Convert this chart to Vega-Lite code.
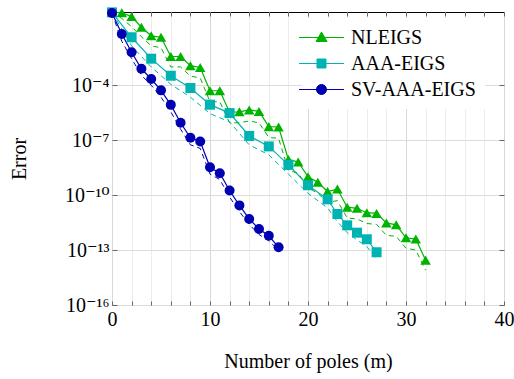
{
  "$schema": "https://vega.github.io/schema/vega-lite/v6.json",
  "width": 392,
  "height": 293,
  "padding": {"left": 9, "top": 7, "right": 0, "bottom": 2},
  "background": "white",
  "config": {
    "view": {"stroke": "black", "strokeWidth": 1},
    "font": "Liberation Serif",
    "axis": {
      "labelFont": "Liberation Serif, DejaVu Serif",
      "titleFont": "Liberation Serif",
      "labelFontSize": 20,
      "titleFontSize": 20,
      "labelColor": "black",
      "titleColor": "black",
      "titleFontWeight": "normal",
      "domain": false,
      "tickColor": "#666666",
      "tickWidth": 1
    },
    "legend": {
      "orient": "none",
      "legendX": 190,
      "legendY": 6,
      "padding": 9,
      "fillColor": "white",
      "labelFont": "Liberation Serif",
      "labelFontSize": 20,
      "labelColor": "black",
      "labelOffset": 19,
      "symbolSize": 400,
      "rowPadding": 5,
      "symbolStrokeWidth": 1,
      "symbolOpacity": 1
    }
  },
  "data": {
    "values": [
      {"s": "NLEIGS", "m": 0, "e": 0.955, "d": 0.955},
      {"s": "NLEIGS", "m": 1, "e": 0.912, "d": 0.447},
      {"s": "NLEIGS", "m": 2, "e": 0.562, "d": 0.158},
      {"s": "NLEIGS", "m": 3, "e": 0.148, "d": 0.0447},
      {"s": "NLEIGS", "m": 4, "e": 0.0501, "d": 0.0141},
      {"s": "NLEIGS", "m": 5, "e": 0.0417, "d": 0.0112},
      {"s": "NLEIGS", "m": 6, "e": 3.72e-3, "d": 1e-3},
      {"s": "NLEIGS", "m": 7, "e": 3.72e-3, "d": 1e-3},
      {"s": "NLEIGS", "m": 8, "e": 1.17e-3, "d": 3.16e-4},
      {"s": "NLEIGS", "m": 9, "e": 9.33e-4, "d": 2.51e-4},
      {"s": "NLEIGS", "m": 10, "e": 5.01e-5, "d": 1.26e-5},
      {"s": "NLEIGS", "m": 11, "e": 5.01e-5, "d": 1.26e-5},
      {"s": "NLEIGS", "m": 12, "e": 3.39e-6, "d": 8.91e-7},
      {"s": "NLEIGS", "m": 13, "e": 3.55e-6, "d": 8.91e-7},
      {"s": "NLEIGS", "m": 14, "e": 4.47e-6, "d": 1.12e-6},
      {"s": "NLEIGS", "m": 15, "e": 3.72e-6, "d": 8.91e-7},
      {"s": "NLEIGS", "m": 16, "e": 5.5e-7, "d": 1.41e-7},
      {"s": "NLEIGS", "m": 17, "e": 5.25e-7, "d": 1.26e-7},
      {"s": "NLEIGS", "m": 18, "e": 8.91e-9, "d": 2.24e-9},
      {"s": "NLEIGS", "m": 19, "e": 6.46e-9, "d": 1.58e-9},
      {"s": "NLEIGS", "m": 20, "e": 1e-9, "d": 2.51e-10},
      {"s": "NLEIGS", "m": 21, "e": 5.01e-10, "d": 1.26e-10},
      {"s": "NLEIGS", "m": 22, "e": 1.58e-10, "d": 3.98e-11},
      {"s": "NLEIGS", "m": 23, "e": 2.14e-10, "d": 5.01e-11},
      {"s": "NLEIGS", "m": 24, "e": 2.19e-11, "d": 5.62e-12},
      {"s": "NLEIGS", "m": 25, "e": 1.91e-11, "d": 5.01e-12},
      {"s": "NLEIGS", "m": 26, "e": 1.1e-11, "d": 2.82e-12},
      {"s": "NLEIGS", "m": 27, "e": 1e-11, "d": 2.51e-12},
      {"s": "NLEIGS", "m": 28, "e": 3.02e-12, "d": 6.31e-13},
      {"s": "NLEIGS", "m": 29, "e": 2.4e-12, "d": 5.62e-13},
      {"s": "NLEIGS", "m": 30, "e": 4.68e-13, "d": 1.26e-13},
      {"s": "NLEIGS", "m": 31, "e": 3.98e-13, "d": 1e-13},
      {"s": "NLEIGS", "m": 32, "e": 2.82e-14, "d": 7.94e-15},
      {"s": "AAA-EIGS", "m": 0, "e": 0.955, "d": 0.955},
      {"s": "AAA-EIGS", "m": 2, "e": 0.0417, "d": 0.0141},
      {"s": "AAA-EIGS", "m": 4, "e": 2.82e-3, "d": 1e-3},
      {"s": "AAA-EIGS", "m": 6, "e": 3.31e-4, "d": 1.12e-4},
      {"s": "AAA-EIGS", "m": 8, "e": 7.08e-5, "d": 2.24e-5},
      {"s": "AAA-EIGS", "m": 10, "e": 8.71e-6, "d": 2.82e-6},
      {"s": "AAA-EIGS", "m": 12, "e": 3.02e-6, "d": 1e-6},
      {"s": "AAA-EIGS", "m": 14, "e": 1.7e-7, "d": 5.62e-8},
      {"s": "AAA-EIGS", "m": 16, "e": 4.57e-8, "d": 1.58e-8},
      {"s": "AAA-EIGS", "m": 18, "e": 4.47e-9, "d": 1.41e-9},
      {"s": "AAA-EIGS", "m": 20, "e": 3.47e-10, "d": 1.26e-10},
      {"s": "AAA-EIGS", "m": 22, "e": 5.89e-11, "d": 2e-11},
      {"s": "AAA-EIGS", "m": 23, "e": 9.33e-12, "d": 3.55e-12},
      {"s": "AAA-EIGS", "m": 24, "e": 2.24e-12, "d": 8.91e-13},
      {"s": "AAA-EIGS", "m": 25, "e": 8.91e-13, "d": 3.55e-13},
      {"s": "AAA-EIGS", "m": 26, "e": 3.89e-13, "d": 1.58e-13},
      {"s": "AAA-EIGS", "m": 27, "e": 7.59e-14, "d": 3.16e-14},
      {"s": "SV-AAA-EIGS", "m": 0, "e": 0.891, "d": 0.891},
      {"s": "SV-AAA-EIGS", "m": 1, "e": 0.0631, "d": 0.0251},
      {"s": "SV-AAA-EIGS", "m": 2, "e": 6.31e-3, "d": 2.82e-3},
      {"s": "SV-AAA-EIGS", "m": 3, "e": 7.94e-4, "d": 3.55e-4},
      {"s": "SV-AAA-EIGS", "m": 4, "e": 2.19e-4, "d": 1e-4},
      {"s": "SV-AAA-EIGS", "m": 5, "e": 5.25e-5, "d": 2.24e-5},
      {"s": "SV-AAA-EIGS", "m": 6, "e": 8.51e-6, "d": 3.55e-6},
      {"s": "SV-AAA-EIGS", "m": 7, "e": 8.91e-7, "d": 3.98e-7},
      {"s": "SV-AAA-EIGS", "m": 8, "e": 1.35e-7, "d": 5.62e-8},
      {"s": "SV-AAA-EIGS", "m": 9, "e": 8.51e-8, "d": 3.55e-8},
      {"s": "SV-AAA-EIGS", "m": 10, "e": 3.31e-9, "d": 1.41e-9},
      {"s": "SV-AAA-EIGS", "m": 11, "e": 1.58e-9, "d": 7.08e-10},
      {"s": "SV-AAA-EIGS", "m": 12, "e": 1.78e-10, "d": 7.94e-11},
      {"s": "SV-AAA-EIGS", "m": 13, "e": 2.75e-11, "d": 1.26e-11},
      {"s": "SV-AAA-EIGS", "m": 14, "e": 5.01e-12, "d": 2.51e-12},
      {"s": "SV-AAA-EIGS", "m": 15, "e": 1.41e-12, "d": 7.08e-13},
      {"s": "SV-AAA-EIGS", "m": 16, "e": 6.03e-13, "d": 3.16e-13},
      {"s": "SV-AAA-EIGS", "m": 17, "e": 1.41e-13, "d": 1e-13}
    ]
  },
  "layer": [
    {
      "mark": {"type": "line", "strokeWidth": 1.2},
      "encoding": {
        "x": {
          "field": "m", "type": "quantitative",
          "scale": {"domain": [0, 40], "nice": false},
          "axis": {
            "orient": "bottom",
            "values": [0, 2, 4, 6, 8, 10, 12, 14, 16, 18, 20, 22, 24, 26, 28, 30, 32, 34, 36, 38, 40],
            "labelExpr": "datum.value % 10 == 0 ? datum.label : ''",
            "labelFlush": false,
            "labelPadding": 8,
            "tickSize": -4,
            "grid": true,
            "gridColor": {"condition": {"test": "datum.value % 10 == 0", "value": "#d9d9d9"}, "value": "#ececec"},
            "title": "Number of poles (m)",
            "titlePadding": 22
          }
        },
        "y": {
          "field": "e", "type": "quantitative",
          "scale": {"type": "log", "domain": [1e-16, 1], "nice": false},
          "axis": {
            "orient": "left",
            "values": [1e-16, 1e-13, 1e-10, 1e-7, 1e-4],
            "labelExpr": "datum.value < 1e-15 ? '10⁻¹⁶' : datum.value < 1e-12 ? '10⁻¹³' : datum.value < 1e-9 ? '10⁻¹⁰' : datum.value < 1e-6 ? '10⁻⁷' : '10⁻⁴'",
            "labelPadding": 8,
            "tickSize": -5,
            "grid": true,
            "gridColor": "#dcdcdc",
            "title": "Error",
            "titlePadding": 35
          }
        },
        "color": {
          "field": "s", "type": "nominal",
          "scale": {"domain": ["NLEIGS", "AAA-EIGS", "SV-AAA-EIGS"], "range": ["#00b300", "#00b3b3", "#0000b3"]},
          "legend": {"title": null}
        }
      }
    },
    {
      "mark": {"type": "line", "strokeWidth": 1, "strokeDash": [5, 4]},
      "encoding": {
        "x": {
          "field": "m", "type": "quantitative",
          "axis": {
            "orient": "top",
            "values": [0, 2, 4, 6, 8, 10, 12, 14, 16, 18, 20, 22, 24, 26, 28, 30, 32, 34, 36, 38, 40],
            "labels": false, "grid": false, "tickSize": -4, "title": null
          }
        },
        "y": {
          "field": "d", "type": "quantitative",
          "axis": {
            "orient": "right",
            "values": [1e-16, 1e-13, 1e-10, 1e-7, 1e-4],
            "labels": false, "grid": false, "tickSize": -5, "title": null
          }
        },
        "color": {"field": "s", "type": "nominal", "legend": {"title": null}}
      }
    },
    {
      "transform": [{"filter": "datum.s == 'NLEIGS'"}],
      "mark": {"type": "point", "shape": "triangle-up", "filled": true, "opacity": 1, "size": 110},
      "encoding": {
        "x": {"field": "m", "type": "quantitative", "axis": null},
        "y": {"field": "e", "type": "quantitative", "axis": null},
        "color": {"field": "s", "type": "nominal", "legend": {"title": null}}
      }
    },
    {
      "transform": [{"filter": "datum.s == 'AAA-EIGS'"}],
      "mark": {"type": "point", "shape": "square", "filled": true, "opacity": 1, "size": 100},
      "encoding": {
        "x": {"field": "m", "type": "quantitative", "axis": null},
        "y": {"field": "e", "type": "quantitative", "axis": null},
        "color": {"field": "s", "type": "nominal", "legend": {"title": null}}
      }
    },
    {
      "transform": [{"filter": "datum.s == 'SV-AAA-EIGS'"}],
      "mark": {"type": "point", "shape": "circle", "filled": true, "opacity": 1, "size": 100},
      "encoding": {
        "x": {"field": "m", "type": "quantitative", "axis": null},
        "y": {"field": "e", "type": "quantitative", "axis": null},
        "color": {"field": "s", "type": "nominal", "legend": {"title": null}}
      }
    },
    {
      "mark": {"type": "point", "filled": true, "opacity": 1, "size": 0},
      "encoding": {
        "x": {"field": "m", "type": "quantitative", "axis": null},
        "y": {"field": "e", "type": "quantitative", "axis": null},
        "color": {"field": "s", "type": "nominal", "legend": {"title": null}},
        "shape": {
          "field": "s", "type": "nominal",
          "scale": {
            "domain": ["NLEIGS", "AAA-EIGS", "SV-AAA-EIGS"],
            "range": [
              "M-2.25,0H2.25M0,-0.55L0.55,0.4L-0.55,0.4Z",
              "M-2.25,0H2.25M-0.45,-0.45H0.45V0.45H-0.45Z",
              "M-2.25,0H2.25M-0.5,0A0.5,0.5,0,1,0,0.5,0A0.5,0.5,0,1,0,-0.5,0Z"
            ]
          },
          "legend": {"title": null}
        }
      }
    }
  ],
  "resolve": {"axis": {"x": "independent", "y": "independent"}}
}
